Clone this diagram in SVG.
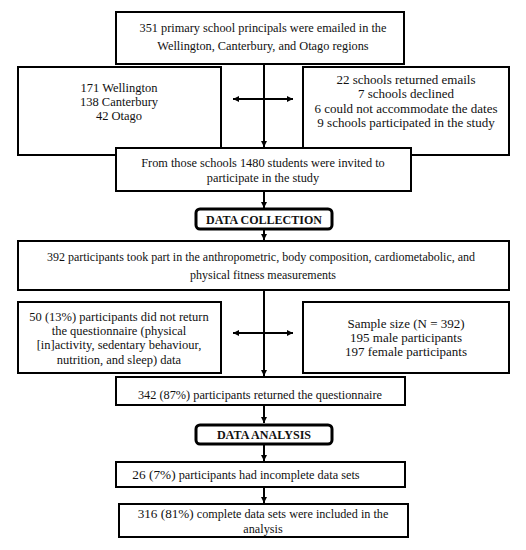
<svg xmlns="http://www.w3.org/2000/svg" width="526" height="550" viewBox="0 0 526 550">
<defs>
<marker id="ah" viewBox="0 0 10 10" refX="10" refY="5" markerWidth="6" markerHeight="6" markerUnits="userSpaceOnUse" orient="auto-start-reverse"><path d="M0,0 L10,5 L0,10 z" fill="#000"/></marker>
<style>
.box{fill:#fff;stroke:#000;stroke-width:2}
.hdr{fill:#fff;stroke:#000;stroke-width:3}
.t{fill:#111;text-anchor:middle}
.b{font-weight:bold}
.c{stroke:#000;stroke-width:2;fill:none}
</style>
</defs>
<rect width="526" height="550" fill="#fff"/>
<g id="connectors">
<line class="c" x1="264" y1="64" x2="264" y2="147" marker-end="url(#ah)"/>
<line class="c" x1="233" y1="99" x2="293" y2="99" marker-start="url(#ah)" marker-end="url(#ah)"/>
<line class="c" x1="264" y1="191" x2="264" y2="208" marker-end="url(#ah)"/>
<line class="c" x1="264" y1="229" x2="264" y2="240" marker-end="url(#ah)"/>
<line class="c" x1="264" y1="290" x2="264" y2="376" marker-end="url(#ah)"/>
<line class="c" x1="233" y1="333" x2="293" y2="333" marker-start="url(#ah)" marker-end="url(#ah)"/>
<line class="c" x1="264" y1="405" x2="264" y2="423" marker-end="url(#ah)"/>
<line class="c" x1="264" y1="444" x2="264" y2="461" marker-end="url(#ah)"/>
<line class="c" x1="264" y1="487" x2="264" y2="503" marker-end="url(#ah)"/>
</g>
<g font-family="Liberation Serif, Times New Roman, serif">
<g id="n1" font-size="12.3"><rect class="box" x="116" y="12" width="288" height="52"/>
<text class="t" x="263" y="32">351 primary school principals were emailed in the</text>
<text class="t" x="263" y="50">Wellington, Canterbury, and Otago regions</text></g>
<g id="n2" font-size="12.5"><rect class="box" x="18" y="67" width="203" height="88"/>
<text class="t" x="119" y="92">171 Wellington</text>
<text class="t" x="119" y="106">138 Canterbury</text>
<text class="t" x="119" y="120">42 Otago</text></g>
<g id="n3" font-size="13"><rect class="box" x="303" y="67" width="206" height="88"/>
<text class="t" x="406" y="84">22 schools returned emails</text>
<text class="t" x="406" y="98">7 schools declined</text>
<text class="t" x="406" y="113">6 could not accommodate the dates</text>
<text class="t" x="406" y="127">9 schools participated in the study</text></g>
<g id="n4" font-size="12.3"><rect class="box" x="116" y="148" width="295" height="43"/>
<text class="t" x="263" y="167">From those schools 1480 students were invited to</text>
<text class="t" x="263" y="182">participate in the study</text></g>
<g id="n5" font-size="12"><rect class="hdr" x="196" y="209" width="136" height="20" rx="4"/>
<text class="t b" x="264" y="224">DATA COLLECTION</text></g>
<g id="n6" font-size="12"><rect class="box" x="18" y="241" width="491" height="49"/>
<text class="t" x="261" y="261">392 participants took part in the anthropometric, body composition, cardiometabolic, and</text>
<text class="t" x="263" y="279">physical fitness measurements</text></g>
<g id="n7" font-size="12.5"><rect class="box" x="18" y="302" width="203" height="71"/>
<text class="t" x="119" y="321">50 (13%) participants did not return</text>
<text class="t" x="119" y="335">the questionnaire (physical</text>
<text class="t" x="119" y="349">[in]activity, sedentary behaviour,</text>
<text class="t" x="119" y="364">nutrition, and sleep) data</text></g>
<g id="n8" font-size="13"><rect class="box" x="303" y="302" width="206" height="71"/>
<text class="t" x="406" y="328">Sample size (N = 392)</text>
<text class="t" x="406" y="342">195 male participants</text>
<text class="t" x="406" y="356">197 female participants</text></g>
<g id="n9" font-size="12.3"><rect class="box" x="116" y="377" width="289" height="28"/>
<text class="t" x="260" y="399">342 (87%) participants returned the questionnaire</text></g>
<g id="n10" font-size="12.1"><rect class="hdr" x="196" y="425" width="136" height="19" rx="4"/>
<text class="t b" x="264" y="439">DATA ANALYSIS</text></g>
<g id="n11" font-size="12.3"><rect class="box" x="116" y="462" width="289" height="25"/>
<text class="t" x="246" y="479"><tspan font-size="13.3">26 (7%)</tspan> participants had incomplete data sets</text></g>
<g id="n12" font-size="12.2"><rect class="box" x="119" y="504" width="289" height="33"/>
<text class="t" x="263" y="518"><tspan font-size="13.2">316 (81%)</tspan> complete data sets were included in the</text>
<text class="t" x="263" y="533">analysis</text></g>
</g>
</svg>
